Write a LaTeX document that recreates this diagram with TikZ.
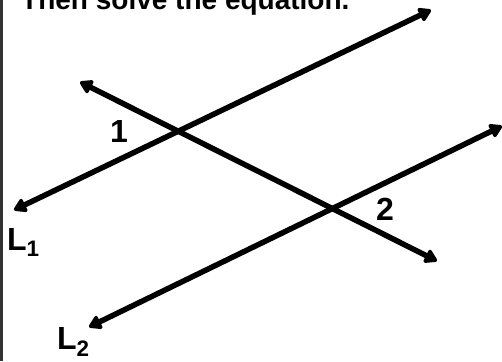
\documentclass[tikz,border=0pt]{standalone}
\usepackage{fontspec}
\setmainfont{Liberation Sans}
\usetikzlibrary{arrows.meta}
\begin{document}
\begin{tikzpicture}[x=1pt,y=-1pt,
  ray/.style={line width=5.5pt,{Triangle[length=14pt,width=16pt,round]}-{Triangle[length=14pt,width=16pt,round]}},
  lbl/.style={inner sep=0pt,font=\bfseries\fontsize{32}{32}\selectfont},
  lblsm/.style={inner sep=0pt,font=\bfseries\fontsize{32}{32}\selectfont},
  ttl/.style={inner sep=0pt,font=\bfseries\fontsize{28}{28}\selectfont}]
\useasboundingbox (0,0) rectangle (502,361);
\begin{scope}
\clip (0,0) rectangle (502,361);
\fill[white] (0,0) rectangle (502,361);
\draw[line width=2.5pt,black!80] (1.5,0) -- (1.5,361);
\node[ttl,anchor=base west] (title) at (21,9.5) {Then solve the equation.};
\coordinate (a1) at (14,210);
\coordinate (a2) at (431,10);
\coordinate (t1) at (80,82);
\coordinate (t2) at (437,261);
\coordinate (b1) at (89,327);
\coordinate (b2) at (502,126);
\draw[ray] (a1) -- (a2);
\draw[ray] (t1) -- (t2);
\draw[ray] (b1) -- (b2);
\node[lblsm] (one) at (119,131) {1};
\node[lblsm] (two) at (385,209) {2};
\node[lbl,anchor=base west] (L1) at (7,250) {L\textsubscript{1}};
\node[lbl,anchor=base west] (L2) at (57,349) {L\textsubscript{2}};
\end{scope}
\end{tikzpicture}
\end{document}
